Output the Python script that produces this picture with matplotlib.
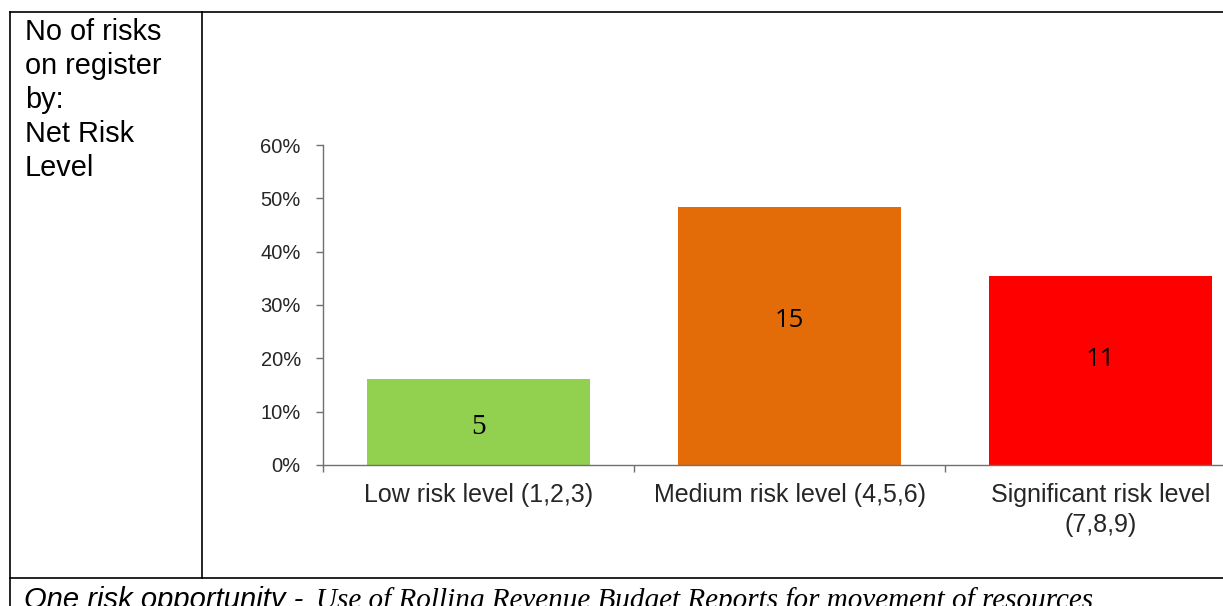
import matplotlib
matplotlib.use("Agg")
import matplotlib.pyplot as plt
from matplotlib.lines import Line2D
from matplotlib.ticker import FixedLocator, FuncFormatter

categories = ["Low risk level (1,2,3)", "Medium risk level (4,5,6)", "Significant risk level\n(7,8,9)"]
counts = [5, 15, 11]
colors = ["#92D050", "#E36C09", "#FF0000"]
yticks = [0, 0.1, 0.2, 0.3, 0.4, 0.5, 0.6]
left_text = "No of risks\non register\nby:\nNet Risk\nLevel"

total = sum(counts)
shares = [c / total for c in counts]

W, H = 1223, 606
fig = plt.figure(figsize=(W / 100, H / 100), dpi=100)

# table borders
def hline(y, x0, x1):
    fig.add_artist(Line2D([x0 / W, x1 / W], [1 - y / H, 1 - y / H], color="black", lw=1.2))

def vline(x, y0, y1):
    fig.add_artist(Line2D([x / W, x / W], [1 - y0 / H, 1 - y1 / H], color="black", lw=1.2))

hline(12, 10, W + 5)
hline(578, 10, W + 5)
vline(10, 12, H + 5)
vline(202, 12, 578)

fig.text(25 / W, 1 - 18 / H, left_text, ha="left", va="top", fontsize=20.8,
         family="Liberation Sans", linespacing=1.27)

fig.text(24 / W, 1 - 608 / H, "One risk opportunity - ", ha="left", va="baseline",
         fontsize=21, family="Liberation Sans", style="italic")
fig.text(316 / W, 1 - 608 / H, "Use of Rolling Revenue Budget Reports for movement of resources",
         ha="left", va="baseline", fontsize=21, family="Liberation Serif", style="italic")

ax_l, ax_r = 323, 323 + 311 * 3
ax_b, ax_t = 465, 145
ax = fig.add_axes([ax_l / W, 1 - ax_b / H, (ax_r - ax_l) / W, (ax_b - ax_t) / H])

x = list(range(len(categories)))
ax.bar(x, shares, width=0.714, color=colors, zorder=2)
ax.set_xlim(-0.5, len(categories) - 0.5)
ax.set_ylim(0, 0.6)

for s in ["top", "right"]:
    ax.spines[s].set_visible(False)
for s in ["left", "bottom"]:
    ax.spines[s].set_color("#707070")
    ax.spines[s].set_linewidth(1.0)

ax.yaxis.set_major_locator(FixedLocator(yticks))
ax.yaxis.set_major_formatter(FuncFormatter(lambda v, p: f"{v*100:.0f}%"))
ax.tick_params(axis="y", direction="out", length=5, width=1, color="#707070",
               labelsize=14.5, labelcolor="#262626", pad=11)

ax.set_xticks(x)
ax.set_xticklabels(categories, fontsize=18, color="#262626", family="Liberation Sans",
                   linespacing=1.3)
ax.set_xticks([i - 0.5 for i in range(len(categories) + 1)], minor=True)
ax.tick_params(axis="x", which="major", length=0, pad=13)
ax.tick_params(axis="x", which="minor", direction="out", length=5, width=1, color="#707070")
for lab in ax.get_yticklabels():
    lab.set_family("Liberation Sans")

label_frac = [0.44, 0.56, 0.555]
label_fonts = [("Liberation Serif", 21), ("Open Sans", 18.5), ("Open Sans", 18.5)]
for i, (s, c) in enumerate(zip(shares, counts)):
    fam, fs = label_fonts[i]
    ax.text(i, s * label_frac[i], str(c), ha="center", va="center", fontsize=fs,
            fontfamily=fam, color="black", zorder=3)

fig.savefig("out.png", dpi=100)
